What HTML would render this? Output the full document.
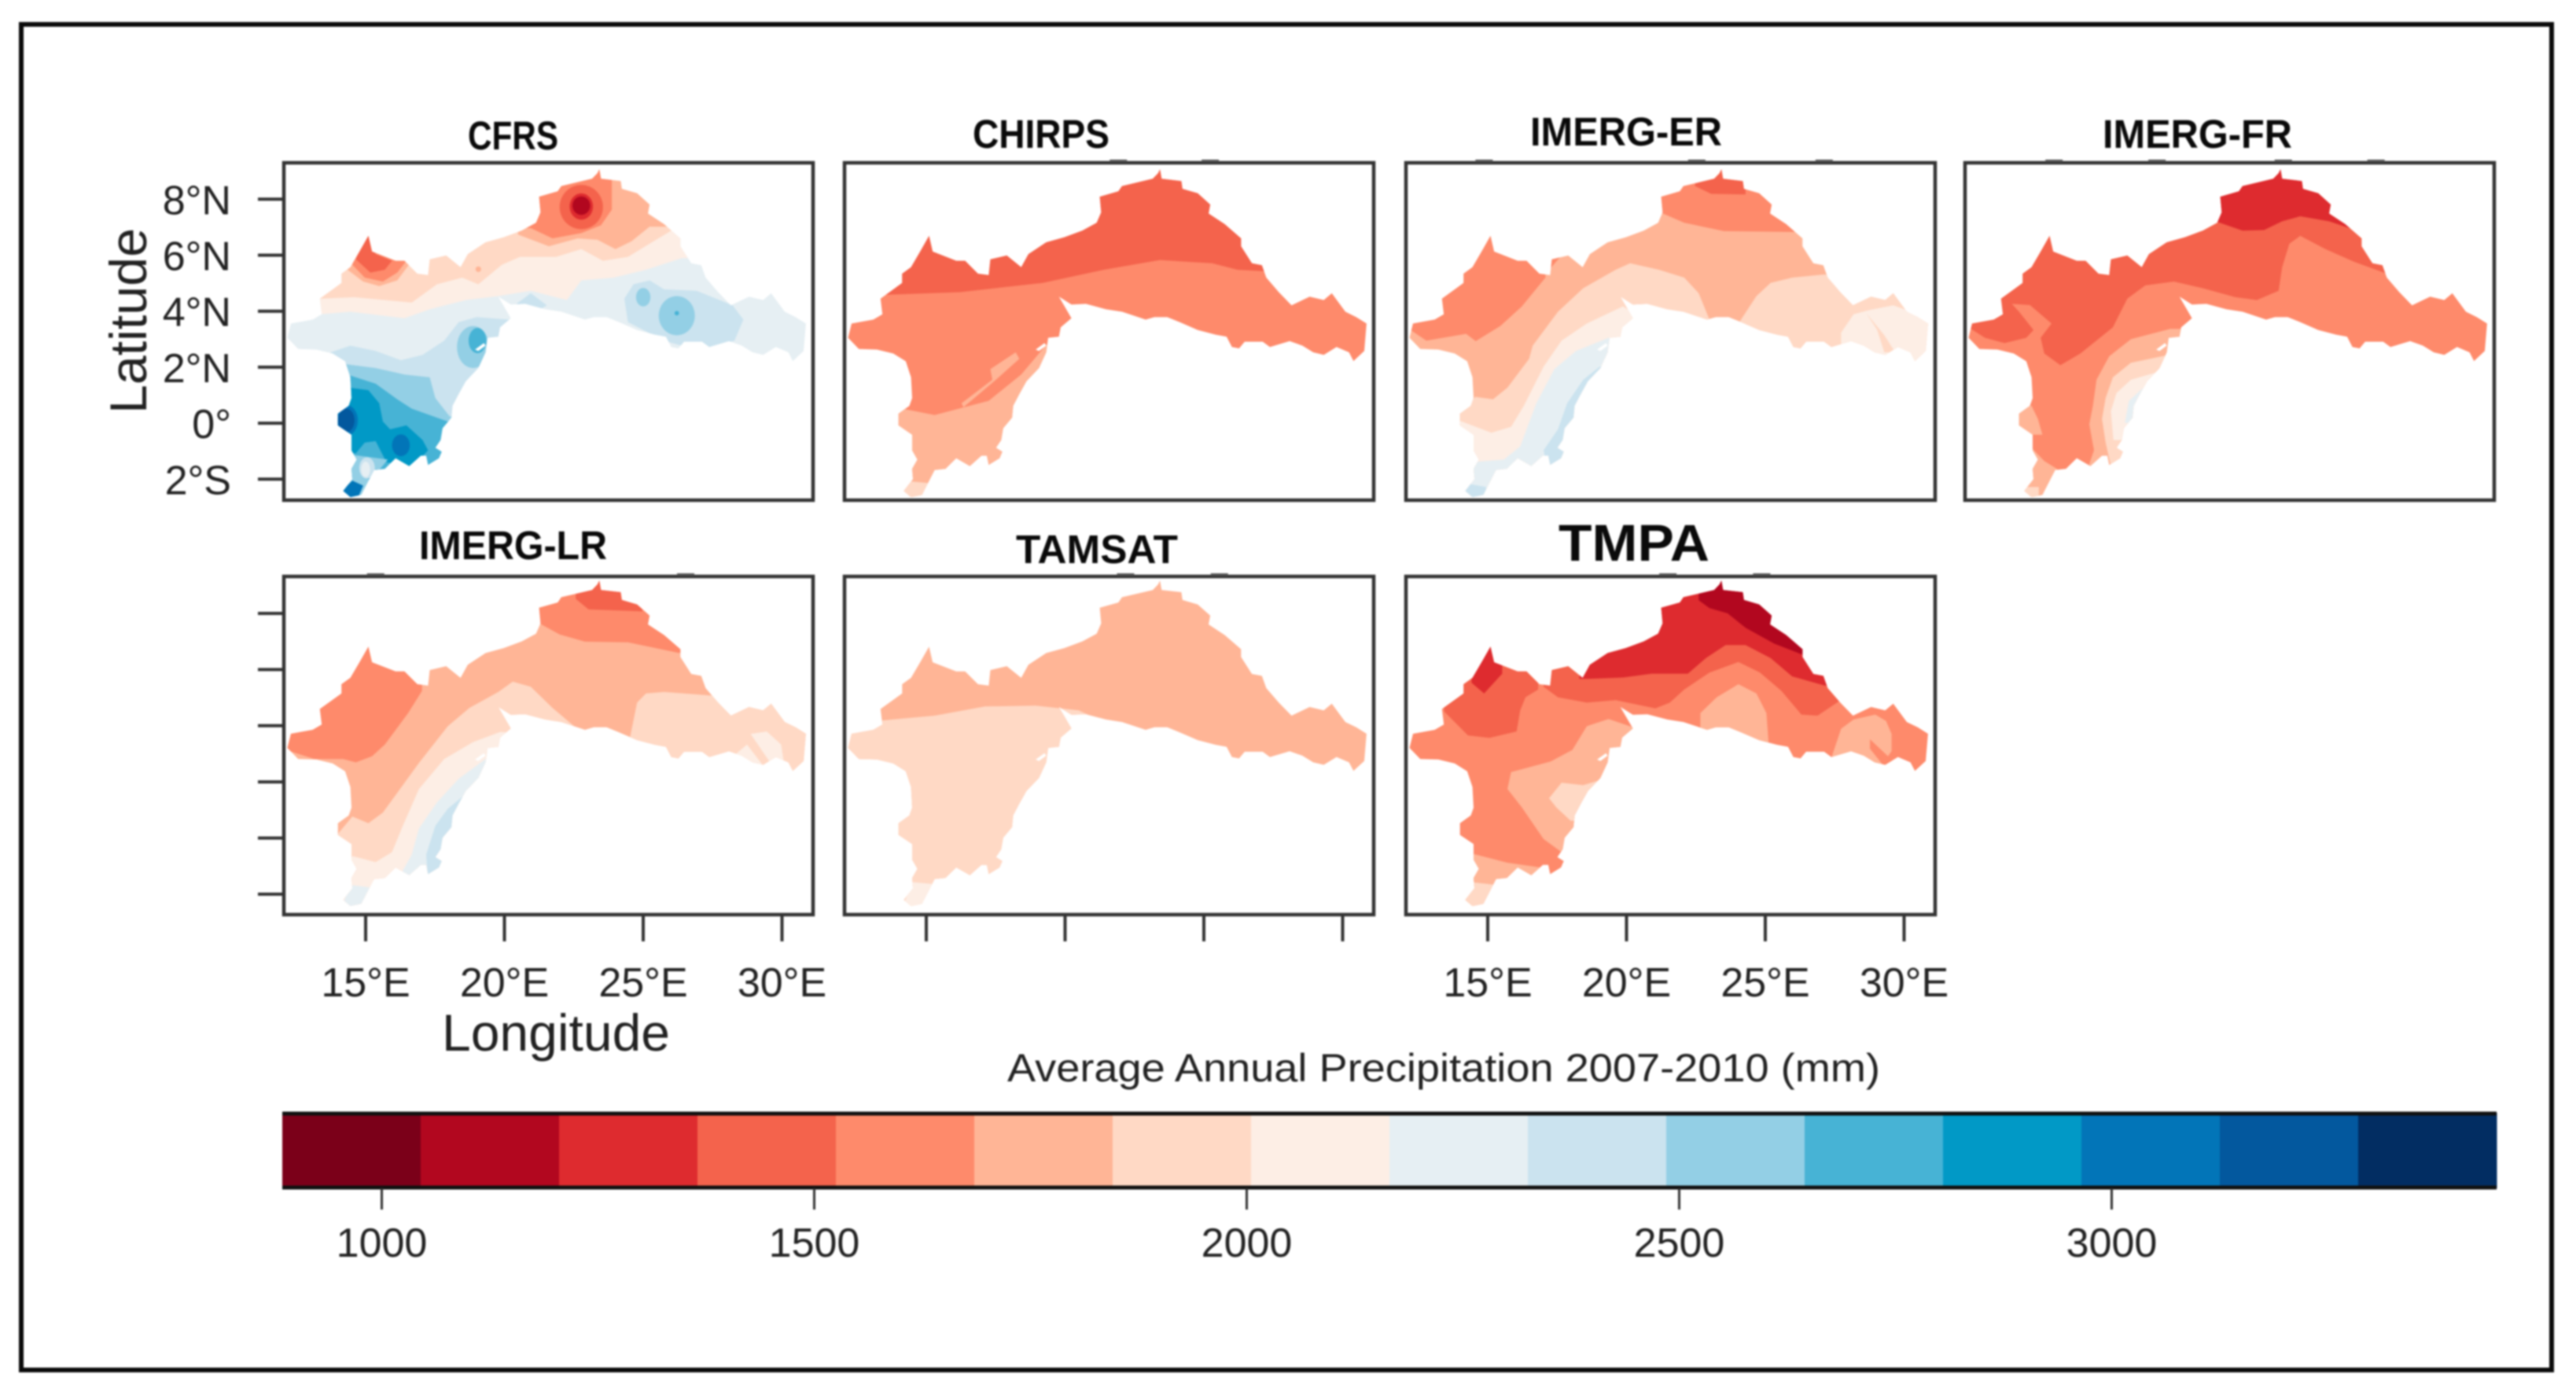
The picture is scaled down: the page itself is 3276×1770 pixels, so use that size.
<!DOCTYPE html>
<html lang="en">
<head>
<meta charset="utf-8">
<title>Average Annual Precipitation 2007-2010</title>
<style>
html,body{margin:0;padding:0;background:#fff;width:3276px;height:1770px;overflow:hidden}
svg{display:block;filter:blur(1px)}
text{font-family:"Liberation Sans",Arial,sans-serif}
</style>
</head>
<body>
<svg id="chart" xmlns="http://www.w3.org/2000/svg" width="3276" height="1770" viewBox="0 0 3276 1770">
  <rect x="0" y="0" width="3276" height="1770" fill="#ffffff"/>
  <rect x="27" y="31" width="3218" height="1711" fill="none" stroke="#0a0a0a" stroke-width="6"/>
  <g id="maps"></g>
  <g id="axes"></g>
  <g id="legend"></g>
  <text x="186" y="408" font-size="66" fill="#222" text-anchor="middle" transform="rotate(-90 186 408)" textLength="236" lengthAdjust="spacingAndGlyphs">Latitude</text>
  <text x="562" y="1336" font-size="66" fill="#222" textLength="290" lengthAdjust="spacingAndGlyphs">Longitude</text>
  <text x="1281" y="1375" font-size="50" fill="#222" textLength="1110" lengthAdjust="spacingAndGlyphs">Average Annual Precipitation 2007-2010 (mm)</text>
</svg>
<script>
// ---- axis values ----
const lonTicks = [15, 20, 25, 30];
const lonTickLabels = ['15°E', '20°E', '25°E', '30°E'];
const latTicks = [8, 6, 4, 2, 0, -2];
const latTickLabels = ['8°N', '6°N', '4°N', '2°N', '0°', '2°S'];
const colorbarTicks = [1000, 1500, 2000, 2500, 3000];
const bandColors = ['#7b0019','#b2071f','#de2b2f','#f4634c','#fe8a6b','#ffb596','#ffd9c5','#fdeee5','#e6eff3','#cbe3ef','#93cfe5','#47b3d5','#0199c6','#0275b8','#03589e','#022d62'];
const bandStart = 885;
const bandStep = 160;

// ---- basin outline as [lon, lat] ----
const basinOutline = [[23.42,9.07],[23.48,8.73],[24.19,8.65],[24.23,8.37],[24.78,8.21],[25.23,7.81],[25.17,7.49],[25.75,7.11],[26.34,6.6],[26.34,6.32],[26.73,5.71],[27.09,5.64],[27.25,5.2],[27.7,4.68],[28.16,4.21],[28.81,4.52],[29.32,4.4],[29.61,4.64],[30.1,3.98],[30.49,3.79],[30.86,3.56],[30.78,2.58],[30.39,2.22],[30.23,2.53],[29.78,2.72],[29.32,2.44],[28.94,2.53],[28.55,2.77],[28.09,2.93],[27.38,2.72],[27.12,2.91],[26.47,2.91],[26.27,2.67],[26.01,2.72],[25.82,3.09],[25.43,3.16],[24.78,3.33],[24.13,3.61],[23.68,3.79],[23.22,3.79],[22.9,3.7],[22.05,3.98],[21.47,4.07],[20.75,4.26],[20.23,4.24],[19.78,4.52],[20.23,3.75],[19.84,3.42],[19.78,3.09],[19.39,3.05],[19.32,2.53],[19.06,1.97],[18.61,1.5],[18.35,1.04],[18.13,0.62],[18.09,0.2],[17.77,-0.18],[17.7,-0.6],[17.51,-0.88],[17.74,-1.02],[17.64,-1.25],[17.25,-1.49],[17.18,-1.16],[16.99,-1.16],[16.57,-1.53],[16.08,-1.25],[15.69,-1.63],[15.3,-1.67],[14.84,-2.56],[14.45,-2.64],[14.19,-2.42],[14.52,-2],[14.49,-1.63],[14.68,-1.3],[14.49,-0.97],[14.49,-0.41],[14,-0.08],[14,0.34],[14.39,0.62],[14.49,0.9],[14.45,1.64],[14.26,2.21],[13.81,2.49],[13.22,2.63],[12.57,2.65],[12.18,3.05],[12.31,3.56],[13.09,3.7],[13.42,3.89],[13.35,4.45],[13.87,4.82],[14.13,5.01],[14.13,5.34],[14.45,5.57],[14.78,6.13],[15.1,6.69],[15.23,6.13],[16.08,5.8],[16.4,5.8],[16.86,5.34],[17.25,5.29],[17.31,5.85],[17.9,5.99],[18.42,5.57],[18.68,6.04],[19.32,6.46],[19.97,6.64],[20.62,6.88],[21.14,7.16],[21.3,7.53],[21.25,8.09],[21.92,8.28],[22.05,8.47],[23.16,8.73],[23.35,8.93]];
const basinNotch = [[18.94,2.63],[19.26,2.86],[19.32,2.77],[19.06,2.58]];

// ---- precipitation zones (mm) per product, lower layers first ----
const cfrsZones = [
 {mm:2245,pts:[[11,10],[32,10],[32,0],[11,0]]},
 {mm:2085,pts:[[13.35,3.89],[14.45,3.98],[16.4,3.75],[17.31,4.07],[18.61,4.4],[19.78,4.54],[20.95,4.73],[22.25,4.4],[22.77,5.1],[23.94,5.2],[25.1,5.48],[26.4,5.9],[27.5,5.9],[27.5,9.3],[12.5,9.3],[12.5,3.89]]},
 {mm:1925,pts:[[13.42,4.45],[14.58,4.5],[16.66,4.31],[17.57,4.96],[18.48,5.2],[19.06,4.96],[19.91,5.66],[20.56,5.94],[21.86,5.94],[22.77,6.22],[23.55,5.8],[24.45,5.94],[25.23,6.41],[26.01,6.88],[27,6.88],[27,9.3],[12.5,9.3],[12.5,4.45]]},
 {mm:1765,pts:[[20.49,6.74],[21.6,6.32],[22.64,6.6],[23.35,6.55],[24,6.22],[24.58,6.5],[25.23,7.02],[26.5,7.02],[26.5,9.3],[20.49,9.3]]},
 {mm:1765,pts:[[14.35,5.48],[14.91,5.06],[15.49,4.9],[16.14,5.1],[16.56,5.66],[16.14,6.13],[15.36,6.79],[14.84,7.07],[14.06,5.94]]},
 {mm:1605,pts:[[20.95,6.97],[21.73,6.6],[22.77,6.79],[23.48,7.07],[23.87,7.63],[23.87,8.84],[23.87,9.3],[20.5,9.3],[20.5,6.97]]},
 {mm:1605,pts:[[14.52,5.66],[14.97,5.2],[15.62,5.06],[16.14,5.38],[16.47,5.8],[15.75,6.13],[15.1,6.79],[14.84,6.79]]},
 {mm:1445,pts:[[14.65,5.85],[15.17,5.38],[15.69,5.48],[15.95,5.8],[15.36,6.04],[15.17,6.69],[14.91,6.69]]},
 {mm:1445,lon:22.77,lat:7.72,rx:0.78,ry:0.79},
 {mm:1285,lon:22.77,lat:7.74,rx:0.42,ry:0.47},
 {mm:1125,lon:22.77,lat:7.77,rx:0.32,ry:0.33},
 {mm:1765,lon:19.06,lat:5.5,rx:0.1,ry:0.1},
 {mm:2405,pts:[[13.74,2.53],[14.45,2.77],[15.36,2.58],[16.27,2.25],[17.05,2.44],[17.83,2.95],[18.35,3.61],[19,3.79],[20.17,3.7],[20.2,-3],[13,-3]]},
 {mm:2565,pts:[[14.26,2.11],[15.36,1.97],[16.4,1.74],[17.31,1.64],[17.51,0.9],[18.03,0.24],[19,0.24],[19,-3],[14,-3],[14,2.11]]},
 {mm:2565,lon:18.87,lat:2.72,rx:0.58,ry:0.75},
 {mm:2725,lon:19.03,lat:2.95,rx:0.32,ry:0.45},
 {mm:2725,pts:[[14.48,1.69],[15.36,1.41],[16.14,0.85],[16.66,0.52],[17.96,0.06],[19,0.06],[19,-2],[13.5,-2],[13.5,1.69]]},
 {mm:2885,pts:[[14.39,1.27],[15.1,1.18],[15.49,0.71],[15.62,0.06],[15.88,-0.22],[16.47,-0.08],[17.05,-0.6],[17.25,-0.97],[16.66,-1.58],[15.75,-1.39],[15.36,-0.64],[14.97,-0.69],[14.65,-1.07],[13.7,-1.07],[13.7,1.27]]},
 {mm:3045,lon:14.3,lat:0.1,rx:0.42,ry:0.55},
 {mm:3205,lon:14.3,lat:0.1,rx:0.3,ry:0.42},
 {mm:3045,lon:16.27,lat:-0.79,rx:0.32,ry:0.39},
 {mm:2565,pts:[[14.3,-1.1],[15.8,-1.3],[15.3,-1.9],[14.8,-2.1],[14.3,-2.1]]},
 {mm:2405,lon:15.05,lat:-1.6,rx:0.28,ry:0.38},
 {mm:2245,lon:15,lat:-1.65,rx:0.16,ry:0.28},
 {mm:3045,pts:[[14.19,-2.37],[14.52,-2.05],[14.91,-2.23],[14.58,-3],[14.19,-3]]},
 {mm:2405,pts:[[24.32,4.45],[24.65,4.96],[25.23,5.1],[25.75,4.78],[26.92,4.73],[28.22,4.21],[28.61,3.7],[28.29,2.95],[27.05,2.58],[25.75,2.95],[24.45,3.61]]},
 {mm:2565,lon:25,lat:4.5,rx:0.26,ry:0.33},
 {mm:2565,lon:26.21,lat:3.84,rx:0.65,ry:0.7},
 {mm:2725,lon:26.21,lat:3.93,rx:0.08,ry:0.08},
 {mm:2405,pts:[[20.43,4.26],[20.95,4.64],[21.53,4.21],[21,3.9]]}
];
const chirpsZones = [
 {mm:1605,pts:[[11,10],[32,10],[32,-3],[11,-3]]},
 {mm:1445,pts:[[13.61,4.59],[16.21,4.68],[19.19,5.01],[21.4,5.48],[23.42,5.83],[25.3,5.71],[26.21,5.48],[27.12,5.43],[27.5,5.4],[27.5,9.3],[12,9.3],[12,4.6]]},
 {mm:1765,pts:[[13.87,0.57],[15.3,0.29],[17.25,0.8],[18.42,1.74],[19.45,2.95],[20.75,2.77],[20.75,-3],[13,-3]]},
 {mm:1765,pts:[[18.22,2.53],[17.31,1.93],[17.38,1.55],[16.27,0.71],[16.34,0.57],[17.51,1.55],[18.35,2.3]]},
 {mm:1925,pts:[[14.13,-2.05],[15.1,-2.14],[15.1,-3],[14,-3]]}
];
const imergErZones = [
 {mm:1765,pts:[[11,10],[32,10],[32,-3],[11,-3]]},
 {mm:1605,pts:[[21.1,7.58],[22.08,7.16],[23.51,6.86],[26.04,6.83],[26.8,7.4],[26.8,9.3],[20.5,9.3],[20.5,7.58]]},
 {mm:1445,pts:[[22.47,8.47],[23.05,8.19],[24.29,8.17],[24.29,9.3],[22.47,9.3]]},
 {mm:1605,pts:[[17.08,5.2],[16.23,4.17],[15.45,3.47],[14.57,2.93],[14.22,3.19],[12.79,2.95],[12.08,3.42],[12,4],[12,7],[17.08,7]]},
 {mm:1605,pts:[[17.21,5.48],[17.66,5.99],[17.27,6.08]]},
 {mm:1925,pts:[[13.9,0.24],[14.55,0.94],[15.19,0.85],[15.71,1.27],[16.49,2.3],[16.62,2.77],[17.53,3.98],[18.44,4.82],[19.61,5.48],[20.13,5.71],[21.17,5.48],[22.08,5.2],[22.6,4.64],[22.99,3.7],[23,2.5],[20,-3],[13,-3]]},
 {mm:1925,pts:[[24.09,3.65],[24.68,4.54],[25.19,5.01],[25.97,5.2],[27.08,5.31],[27.5,5.3],[31,5.3],[31,2],[24.09,2]]},
 {mm:2085,pts:[[13.96,0.1],[15.13,-0.34],[15.84,-0.13],[16.3,0.62],[17.01,2.02],[17.66,2.95],[18.57,3.56],[19.87,4.17],[20.65,3.7],[20.65,-3],[13.5,-3]]},
 {mm:2085,pts:[[27.73,3.23],[28.18,3.89],[28.7,4.03],[29.61,4.21],[30.78,3.79],[31.2,3.5],[31.2,2],[27.73,2]]},
 {mm:1925,pts:[[28.64,3.93],[29.29,3.14],[29.68,2.53],[29.29,2.53],[29.03,3.33]]},
 {mm:2245,pts:[[14.42,-1.39],[15.58,-1.3],[16.17,-0.83],[16.75,0.71],[17.4,1.93],[18.18,2.58],[19.35,3.05],[20,3],[20,-3],[13.5,-3]]},
 {mm:2405,pts:[[19.03,2.02],[18.44,1.55],[17.86,0.71],[17.53,-0.22],[17.01,-0.97],[17.14,-1.53],[19.5,-1.53],[19.5,2.02]]},
 {mm:2405,pts:[[14.16,-2.14],[14.94,-2.28],[14.94,-3],[14,-3]]}
];
const imergFrZones = [
 {mm:1605,pts:[[11,10],[32,10],[32,-3],[11,-3]]},
 {mm:1445,pts:[[12.18,3.42],[12.77,3.05],[13.48,2.86],[14.26,3.05],[14.52,3.33],[14,3.98],[13.74,4.26],[14.39,4.22],[15.17,3.56],[14.78,3.05],[14.91,2.49],[15.49,2.07],[16.21,2.49],[17.38,3.42],[17.9,4.45],[18.55,4.92],[19.58,5.06],[20.62,4.82],[21.79,4.5],[22.57,4.4],[23.35,4.73],[23.48,5.57],[23.74,6.41],[24.13,6.69],[25.04,6.22],[26.08,5.76],[27.25,5.34],[27.6,5.3],[27.6,9.3],[12,9.3]]},
 {mm:1285,pts:[[21.08,7.21],[22.05,6.88],[22.83,6.9],[23.48,7.21],[24.13,7.39],[25.17,7.21],[26.01,6.93],[26.01,9.3],[21,9.3]]},
 {mm:1765,pts:[[19.45,3.37],[18.03,3],[17.25,2.39],[16.79,1.55],[16.66,0.62],[16.53,-0.04],[16.7,-0.97],[16.47,-1.63],[17.9,-1.9],[20,1.5],[20,3.37]]},
 {mm:1925,pts:[[19.39,2.44],[18.03,2.16],[17.38,1.64],[17.12,0.9],[16.99,0.15],[17.12,-0.69],[17.31,-1.53],[18,-1.53],[20,1.5],[20,2.44]]},
 {mm:2085,pts:[[19,1.83],[18.03,1.55],[17.51,1.08],[17.31,0.43],[17.4,-0.6],[18.2,-0.6],[19.8,1.83]]},
 {mm:2245,pts:[[18.48,1.27],[17.96,0.8],[17.81,0.01],[18.6,0.01],[19,1.27]]},
 {mm:1765,pts:[[14.45,0.62],[14.68,0.15],[14.84,-0.41],[13.6,-0.41],[13.6,0.62]]},
 {mm:1765,pts:[[14.45,-0.88],[14.91,-1.35],[15.43,-1.67],[15.43,-3],[13.5,-3],[13.5,-0.88]]},
 {mm:1925,pts:[[14.13,-2.28],[14.71,-2.28],[14.71,-3],[14,-3]]}
];
const imergLrZones = [
 {mm:1765,pts:[[11,10],[32,10],[32,-3],[11,-3]]},
 {mm:1605,pts:[[21.21,7.56],[21.99,7.13],[22.9,6.87],[24.45,6.85],[26.27,6.47],[27,6.47],[27,9.3],[20.5,9.3],[20.5,7.56]]},
 {mm:1445,pts:[[22.57,8.41],[23.03,8.03],[24.97,7.96],[24.97,9.3],[22.57,9.3]]},
 {mm:1605,pts:[[17.03,5.1],[16.53,4.3],[15.69,3.17],[15.23,2.75],[14.65,2.53],[14.19,2.65],[13.16,2.65],[12.12,2.98],[12,3],[12,7],[17.03,7]]},
 {mm:1925,pts:[[14,-0.04],[14.52,0.58],[15.1,0.34],[15.62,0.72],[16.92,2.51],[17.96,3.83],[18.74,4.49],[19.78,5.06],[20.3,5.43],[20.95,5.25],[21.73,4.49],[22.51,3.83],[23.03,3.59],[23.03,2.5],[20,-3],[13.5,-3]]},
 {mm:1925,pts:[[24.52,3.41],[24.78,4.68],[25.1,5.01],[25.75,5.06],[27.38,4.94],[31.5,4.94],[31.5,2],[24.52,2]]},
 {mm:2085,pts:[[14.52,-0.84],[15.36,-1.06],[15.95,-0.7],[16.34,0.25],[16.92,1.57],[17.83,2.65],[18.87,3.26],[19.84,3.62],[20.5,3.6],[20.5,-3],[13.5,-3]]},
 {mm:2085,pts:[[28.87,3.55],[29.45,3.64],[29.97,3.17],[30.1,2.32],[29.71,2.32]]},
 {mm:2085,pts:[[28.35,2.84],[28.74,3.17],[29.39,2.32],[28.74,2.23]]},
 {mm:2245,pts:[[16.21,-1.59],[16.66,-0.79],[16.92,0.15],[17.57,1.09],[18.35,1.94],[19.32,2.65],[20,2.65],[20,-3],[16.21,-3]]},
 {mm:2245,pts:[[14.45,-1.88],[15.17,-1.97],[15.17,-3],[14,-3]]},
 {mm:2405,pts:[[18.64,1.42],[17.96,0.86],[17.51,0.25],[17.18,-0.79],[17.25,-1.74],[20,-1.74],[20,1.42]]}
];
const tamsatZones = [
 {mm:1765,pts:[[11,10],[32,10],[32,-3],[11,-3]]},
 {mm:1925,pts:[[13.22,4.02],[15.3,4.21],[17.12,4.54],[18.94,4.57],[20.49,4.4],[21.53,3.92],[21.53,-3],[12,-3],[12,4.02]]},
 {mm:2085,pts:[[14.52,-1.78],[15.3,-1.85],[15.3,-3],[14,-3]]}
];
const tmpaZones = [
 {mm:1605,pts:[[11,10],[32,10],[32,-3],[11,-3]]},
 {mm:1445,pts:[[17.01,5.25],[17.53,4.87],[18.57,4.68],[19.61,4.77],[21.04,4.47],[21.56,4.68],[22.08,5.15],[22.99,5.76],[24.03,6.14],[24.81,5.76],[25.58,5.1],[26.3,4.25],[26.88,4.21],[27.66,4.73],[28,5.2],[28,9.3],[17.01,9.3]]},
 {mm:1285,pts:[[18.57,5.53],[19.87,5.58],[20.91,5.72],[22.21,5.72],[22.86,6.28],[23.57,6.75],[24.29,6.75],[25.19,6.28],[25.97,5.62],[27.14,5.29],[28,5.29],[28,9.3],[18.3,9.3],[18.3,5.53]]},
 {mm:1125,pts:[[22.6,8.36],[22.99,8.08],[23.64,7.89],[24.29,7.37],[25.32,6.8],[26.3,6.42],[27,6.42],[27,9.3],[22.6,9.3]]},
 {mm:1445,pts:[[13.44,4.35],[14.29,3.5],[15.06,3.41],[16.04,3.64],[16.17,4.4],[16.36,4.87],[16.82,5.15],[16.82,7],[13,7]]},
 {mm:1285,pts:[[14.42,5.39],[14.87,5.01],[15.52,5.72],[15.52,7.2],[14.42,7.2]]},
 {mm:1765,pts:[[22.66,3.74],[22.66,4.3],[23.25,4.87],[24.03,5.34],[24.68,5.01],[25.04,4.3],[25.13,3.08],[22.66,3.08]]},
 {mm:1765,pts:[[15.71,1.57],[15.84,2.18],[17.27,2.56],[18.05,2.98],[18.57,3.83],[19.35,4.09],[20.39,3.74],[20.13,1.85],[18.57,0.43],[17.66,-0.7],[17.01,-0.23],[16.23,0.91]]},
 {mm:1925,pts:[[17.21,1.24],[17.66,1.8],[18.44,1.71],[19.22,1.94],[18.57,0.43],[17.99,0.43],[17.47,0.91]]},
 {mm:1765,pts:[[14.42,-0.75],[15.71,-1.08],[16.95,-1.26],[16.6,-1.95],[16,-3],[13.5,-3],[13.5,-0.75]]},
 {mm:1925,pts:[[14.42,-1.78],[15.32,-1.88],[15.32,-3],[13.8,-3]]},
 {mm:1765,pts:[[27.4,2.75],[27.73,3.74],[28.18,4.07],[28.96,4.25],[29.35,4.02],[29.55,3.55],[29.55,2.79],[29.74,2.23],[27.4,2.2]]},
 {mm:1605,pts:[[28.77,3.36],[29.42,2.75],[29.58,2.98],[29.61,2.37],[29.29,2.37],[28.77,3.02]]}
];

// leftover tick stubs printed above some panels (longitude)
const cfrsTopMarks = [];
const chirpsTopMarks = [21.92, 25.23];
const imergErTopMarks = [14.87, 22.53, 27.12];
const imergFrTopMarks = [15.26, 18.97, 23.52, 26.86];
const imergLrTopMarks = [15.36, 26.53];
const tamsatTopMarks = [22.18, 25.56];
const tmpaTopMarks = [21.49, 24.87];

// ---- layout ----
const SVGNS = 'http://www.w3.org/2000/svg';
const row1 = {top:207, bottom:636, mapY8:253.3, mapK:35.6, tickY8:253.3, tickK:35.6};
const row2 = {top:733, bottom:1163, mapY8:776, mapK:35.35, tickY8:780, tickK:35.7};
const panels = [
 {key:'cfrs', title:'CFRS', left:361, row:row1, zones:cfrsZones, marks:cfrsTopMarks, tx:595, tw:115, ty:190, fs:51, yLabels:true, yTicks:true},
 {key:'chirps', title:'CHIRPS', left:1074, row:row1, zones:chirpsZones, marks:chirpsTopMarks, tx:1237, tw:174, ty:188, fs:51},
 {key:'imerg-er', title:'IMERG-ER', left:1788, row:row1, zones:imergErZones, marks:imergErTopMarks, tx:1946, tw:244, ty:185, fs:51},
 {key:'imerg-fr', title:'IMERG-FR', left:2499, row:row1, zones:imergFrZones, marks:imergFrTopMarks, tx:2674, tw:241, ty:188, fs:51},
 {key:'imerg-lr', title:'IMERG-LR', left:361, row:row2, zones:imergLrZones, marks:imergLrTopMarks, tx:533, tw:239, ty:711, fs:51, yTicks:true, xTicks:true, xLabels:true},
 {key:'tamsat', title:'TAMSAT', left:1074, row:row2, zones:tamsatZones, marks:tamsatTopMarks, tx:1292, tw:206, ty:716, fs:51, xTicks:true},
 {key:'tmpa', title:'TMPA', left:1788, row:row2, zones:tmpaZones, marks:tmpaTopMarks, tx:1982, tw:192, ty:713, fs:66, xTicks:true, xLabels:true}
];
const panelWidth = 673;

function xScale(p, lon) { return p.left + 104 + (lon - 15) * 35.3; }
function yMap(p, lat) { return p.row.mapY8 + (8 - lat) * p.row.mapK; }
function yTick(p, lat) { return p.row.tickY8 + (8 - lat) * p.row.tickK; }
function bandColor(mm) {
  var i = Math.floor((mm - bandStart) / bandStep);
  return bandColors[Math.max(0, Math.min(bandColors.length - 1, i))];
}
function polyPath(p, pts) {
  return pts.map(function (q, i) {
    return (i ? 'L' : 'M') + xScale(p, q[0]).toFixed(1) + ' ' + yMap(p, q[1]).toFixed(1);
  }).join('') + 'Z';
}
function make(tag, attrs, parent) {
  var el = document.createElementNS(SVGNS, tag);
  Object.keys(attrs).forEach(function (k) { el.setAttribute(k, attrs[k]); });
  parent.appendChild(el);
  return el;
}

const mapsRoot = document.getElementById('maps');
const axesRoot = document.getElementById('axes');
const legendRoot = document.getElementById('legend');

panels.forEach(function (p) {
  var top = p.row.top, bottom = p.row.bottom;

  var group = make('g', {}, mapsRoot);
  
  

  var clip = make('clipPath', {id: 'clip-' + p.key}, group);
  make('path', {d: polyPath(p, basinOutline)}, clip);

  var layer = make('g', {'clip-path': 'url(#clip-' + p.key + ')'}, group);
  
  

  p.zones.forEach(function (z) {
    var mark;
    if (z.pts) {
      mark = make('path', {d: polyPath(p, z.pts), fill: bandColor(z.mm)}, layer);
    } else {
      mark = make('ellipse', {cx: xScale(p, z.lon), cy: yMap(p, z.lat), rx: z.rx * 35.3, ry: z.ry * p.row.mapK, fill: bandColor(z.mm)}, layer);
    }
    
    
  });

  var notch = make('path', {d: polyPath(p, basinNotch), fill: '#ffffff'}, group);
  
  

  var frame = make('rect', {x: p.left, y: top, width: panelWidth, height: bottom - top, fill: 'none', stroke: '#333333', 'stroke-width': 4.5}, group);
  
  

  p.marks.forEach(function (lon) {
    var stub = make('rect', {x: xScale(p, lon) - 11, y: top - 4, width: 22, height: 3, fill: '#555555'}, group);
    
    
  });

  var title = make('text', {x: p.tx, y: p.ty, 'font-size': p.fs, 'font-weight': 'bold', fill: '#0a0a0a', textLength: p.tw, lengthAdjust: 'spacingAndGlyphs'}, group);
  title.textContent = p.title;
  
  

  if (p.yTicks) {
    latTicks.forEach(function (lat, i) {
      var t = make('line', {x1: 328, x2: p.left, y1: yTick(p, lat), y2: yTick(p, lat), stroke: '#333333', 'stroke-width': 4}, axesRoot);
      
      
      if (p.yLabels) {
        var lab = make('text', {x: 294, y: yTick(p, lat) + 19, 'font-size': 52, fill: '#222222', 'text-anchor': 'end'}, axesRoot);
        lab.textContent = latTickLabels[i];
        
        
      }
    });
  }
  if (p.xTicks) {
    lonTicks.forEach(function (lon, i) {
      var t = make('line', {x1: xScale(p, lon), x2: xScale(p, lon), y1: bottom, y2: 1197, stroke: '#333333', 'stroke-width': 4}, axesRoot);
      
      
      if (p.xLabels) {
        var lab = make('text', {x: xScale(p, lon), y: 1267, 'font-size': 52, fill: '#222222', 'text-anchor': 'middle'}, axesRoot);
        lab.textContent = lonTickLabels[i];
        
        
      }
    });
  }
});

// ---- colorbar ----
const barLeft = 359, barTop = 1415, barHeight = 96;
const barPxPerMm = 1.1;
function xBar(mm) { return barLeft + (mm - bandStart) * barPxPerMm; }

bandColors.forEach(function (c, i) {
  var from = bandStart + i * bandStep;
  var cell = make('rect', {x: xBar(from), y: barTop, width: bandStep * barPxPerMm + 0.5, height: barHeight, fill: c}, legendRoot);
  
  
});
var barTopLine = make('line', {x1: barLeft, x2: xBar(bandStart + bandColors.length * bandStep), y1: barTop + 1, y2: barTop + 1, stroke: '#111111', 'stroke-width': 5}, legendRoot);


var barBottomLine = make('line', {x1: barLeft, x2: xBar(bandStart + bandColors.length * bandStep), y1: barTop + barHeight - 1, y2: barTop + barHeight - 1, stroke: '#111111', 'stroke-width': 5}, legendRoot);



colorbarTicks.forEach(function (v) {
  var t = make('line', {x1: xBar(v), x2: xBar(v), y1: barTop + barHeight, y2: 1538, stroke: '#333333', 'stroke-width': 3}, legendRoot);
  
  
  var lab = make('text', {x: xBar(v), y: 1598, 'font-size': 52, fill: '#222222', 'text-anchor': 'middle'}, legendRoot);
  lab.textContent = String(v);
  
  
});
</script>
</body>
</html>
